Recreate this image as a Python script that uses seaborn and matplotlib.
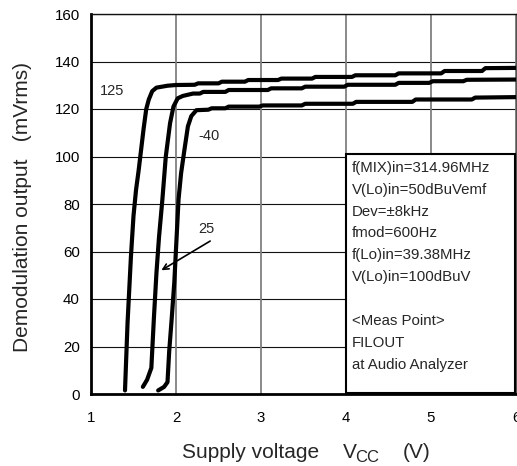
import matplotlib
matplotlib.use("Agg")
import matplotlib.pyplot as plt
import seaborn as sns
import pandas as pd
from matplotlib.patches import Rectangle

# curve data (Vcc in V, output in mVrms)
x_125 = [1.40, 1.43, 1.47, 1.50, 1.53, 1.56, 1.58, 1.62, 1.65, 1.68, 1.72, 1.77, 1.82, 1.90, 2.00,
         2.22, 2.26, 2.50, 2.54, 2.81, 2.85, 3.20, 3.24, 3.60, 3.64, 4.07, 4.11, 4.58, 4.62, 5.12,
         5.16, 5.60, 5.64, 6.00]
y_125 = [1.5, 30, 58, 75, 86, 94, 100, 112, 120, 124, 127.5, 129, 129.3, 129.8, 130.1,
         130.2, 130.8, 130.8, 131.5, 131.5, 132.2, 132.2, 132.8, 132.8, 133.5, 133.5, 134.2, 134.2, 135.0, 135.0,
         136.0, 136.0, 137.2, 137.3]

x_25 = [1.61, 1.66, 1.71, 1.72, 1.74, 1.77, 1.80, 1.84, 1.88, 1.93, 1.97, 2.02, 2.08, 2.20,
        2.28, 2.32, 2.58, 2.62, 3.08, 3.12, 3.48, 3.52, 3.98, 4.02, 4.58, 4.62, 4.98, 5.02, 5.38, 5.42, 6.00]
y_25 = [3, 6, 11, 18, 32, 51, 66, 82, 100, 114, 121, 124.5, 125.5, 126.5,
        126.5, 127.2, 127.2, 128.0, 128.0, 128.7, 128.7, 129.4, 129.4, 130.2, 130.2, 131.0, 131.0, 131.7, 131.7, 132.3, 132.4]

x_m40 = [1.79, 1.86, 1.90, 1.92, 1.95, 1.98, 2.03, 2.06, 2.10, 2.14, 2.18, 2.24,
         2.38, 2.42, 2.58, 2.62, 2.98, 3.02, 3.48, 3.52, 4.08, 4.12, 4.78, 4.82, 5.48, 5.52, 6.00]
y_m40 = [1.5, 3, 5, 18, 32, 47, 82, 93, 103, 112.7, 117, 119.5,
         119.7, 120.3, 120.3, 121.0, 121.0, 121.5, 121.5, 122.2, 122.2, 123.0, 123.0, 124.0, 124.0, 124.8, 125.0]

x_ticks = [1, 2, 3, 4, 5, 6]
y_ticks = [0, 20, 40, 60, 80, 100, 120, 140, 160]

box_lines = ["f(MIX)in=314.96MHz", "V(Lo)in=50dBuVemf", "Dev=\u00b18kHz", "fmod=600Hz",
             "f(Lo)in=39.38MHz", "V(Lo)in=100dBuV", "", "<Meas Point>", "FILOUT", "at Audio Analyzer"]

df = pd.concat([
    pd.DataFrame({"vcc": x_125, "out": y_125, "temp": "125"}),
    pd.DataFrame({"vcc": x_25, "out": y_25, "temp": "25"}),
    pd.DataFrame({"vcc": x_m40, "out": y_m40, "temp": "-40"}),
])

sns.set_style("white")
plt.rcParams["font.family"] = ["Liberation Sans", "DejaVu Sans"]

W, H = 517, 466
fig = plt.figure(figsize=(W / 100, H / 100), dpi=100)
ax = fig.add_axes([91 / W, 72 / H, 425 / W, 380 / H])

sns.lineplot(data=df, x="vcc", y="out", units="temp", estimator=None, sort=False,
             color="black", linewidth=3.0, ax=ax, legend=False, zorder=3)

ax.set_xlim(1, 6)
ax.set_ylim(0, 160)
ax.set_xticks(x_ticks)
ax.set_yticks(y_ticks)
ax.tick_params(axis="both", length=0, labelsize=10.8, colors="black")
ax.tick_params(axis="y", pad=8)
ax.tick_params(axis="x", pad=12)
ax.set_xlabel("")
ax.set_ylabel("")

for v in y_ticks[1:]:
    ax.axhline(v, color="#111111", linewidth=0.8, zorder=1)
for v in x_ticks[1:]:
    ax.axvline(v, color="#808080", linewidth=1.3, zorder=1)

for s in ["left", "bottom"]:
    ax.spines[s].set_color("black")
    ax.spines[s].set_linewidth(2.0)
ax.spines["top"].set_color("#111111")
ax.spines["top"].set_linewidth(1.0)
ax.spines["right"].set_color("#555555")
ax.spines["right"].set_linewidth(1.0)

# axis titles (V_CC with a large subscript like the original)
fig.text(182 / W, 1 - 458 / H, "Supply voltage", fontsize=15, ha="left", va="baseline")
fig.text(343 / W, 1 - 458 / H, "V", fontsize=15, ha="left", va="baseline")
fig.text(355 / W, 1 - 462 / H, "CC", fontsize=12, ha="left", va="baseline")
fig.text(403 / W, 1 - 458 / H, "(V)", fontsize=15, ha="left", va="baseline")
fig.text(23 / W, 1 - 206.5 / H, "Demodulation output   (mVrms)", fontsize=15,
         rotation=90, ha="center", va="center")

# condition box
ax.add_patch(Rectangle((4.0, 0.6), 1.99, 100.4, facecolor="white", edgecolor="black",
                       linewidth=1.5, zorder=4, clip_on=False))
for i, line in enumerate(box_lines):
    ax.text(4.07, 95.2 - i * 9.2, line, fontsize=10.8, va="center", ha="left", zorder=5)

# curve labels
ax.text(1.105, 127.5, "125", fontsize=10.5, va="center", ha="left")
ax.text(2.26, 108.5, "-40", fontsize=10.5, va="center", ha="left")
ax.text(2.26, 69.5, "25", fontsize=10.5, va="center", ha="left")
ax.annotate("", xy=(1.80, 51.5), xytext=(2.43, 65),
            arrowprops=dict(arrowstyle="->", color="black", lw=1.2))

plt.savefig("out.png", dpi=100)
